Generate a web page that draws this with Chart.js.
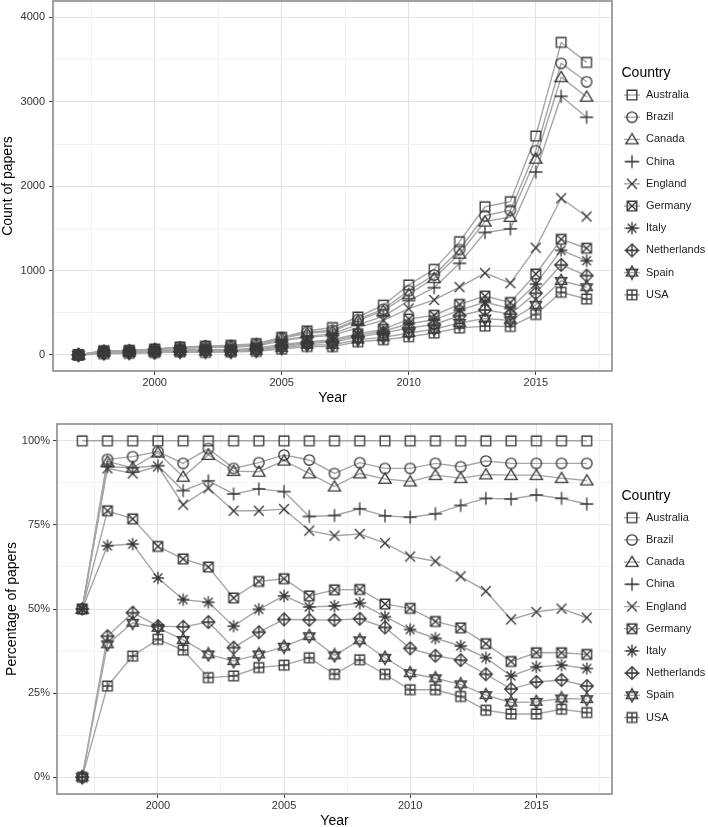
<!DOCTYPE html>
<html>
<head>
<meta charset="utf-8">
<script src="https://cdn.jsdelivr.net/npm/chart.js@4.4.1/dist/chart.umd.min.js"></script>
<style>
  html, body { margin: 0; padding: 0; background: #fff; overflow: hidden; }
  #countChart { position: absolute; left: 0; top: 0; }
  #pctChart { position: absolute; left: 0; top: 410px; }
</style>
</head>
<body>
<canvas id="countChart" width="708" height="407" style="width:708px;height:407px"></canvas>
<canvas id="pctChart" width="708" height="420" style="width:708px;height:420px"></canvas>
<script>
const years = [1997, 1998, 1999, 2000, 2001, 2002, 2003, 2004, 2005, 2006, 2007,
  2008, 2009, 2010, 2011, 2012, 2013, 2014, 2015, 2016, 2017];

const countries = ['Australia', 'Brazil', 'Canada', 'China', 'England',
  'Germany', 'Italy', 'Netherlands', 'Spain', 'USA'];

// ggplot shapes 0,1,2,3,4,7,8,9,11,12
const shapes = ['square', 'circle', 'triangle', 'plus', 'cross',
  'squareCross', 'asterisk', 'diamondPlus', 'star', 'squarePlus'];

// top panel: count of papers
const australiaCount = [2, 50, 55, 70, 95, 105, 115, 135, 210, 285, 325, 450, 590, 830, 1015, 1343, 1757, 1817, 2595, 3705, 3468];
const brazilCount = [1, 47, 52, 68, 89, 103, 106, 126, 201, 269, 293, 421, 542, 762, 948, 1250, 1650, 1715, 2421, 3457, 3238];
const canadaCount = [1, 47, 51, 68, 85, 101, 105, 123, 198, 257, 281, 406, 523, 720, 910, 1200, 1580, 1635, 2325, 3292, 3060];
const chinaCount = [1, 46, 51, 65, 81, 93, 97, 116, 178, 221, 253, 359, 458, 645, 798, 1086, 1452, 1495, 2168, 3066, 2817];
const englandCount = [1, 46, 50, 65, 77, 90, 91, 107, 167, 209, 233, 325, 411, 550, 652, 805, 970, 851, 1270, 1857, 1641];
const germanyCount = [1, 40, 42, 48, 62, 66, 61, 79, 124, 153, 181, 251, 304, 425, 471, 600, 698, 622, 960, 1371, 1265];
const italyCount = [1, 34, 38, 41, 50, 55, 52, 67, 113, 144, 165, 232, 281, 370, 417, 528, 628, 550, 840, 1240, 1117];
const netherlandsCount = [0, 21, 27, 31, 42, 48, 44, 58, 98, 134, 152, 212, 262, 320, 361, 465, 535, 484, 732, 1068, 940];
const spainCount = [0, 20, 25, 31, 39, 38, 40, 49, 81, 119, 118, 182, 209, 260, 305, 380, 432, 410, 595, 878, 803];
const usaCount = [0, 14, 20, 29, 36, 31, 35, 44, 70, 101, 99, 157, 181, 216, 260, 320, 342, 338, 480, 743, 663];

// bottom panel: percentage of papers
const australiaPct = [100, 100, 100, 100, 100, 100, 100, 100, 100, 100, 100, 100, 100, 100, 100, 100, 100, 100, 100, 100, 100];
const brazilPct = [50, 94.5, 95.3, 96.8, 93.3, 97.7, 91.8, 93.5, 95.8, 94.3, 90.3, 93.5, 91.8, 91.8, 93.3, 92.3, 94.0, 93.3, 93.3, 93.3, 93.3];
const canadaPct = [50, 93.8, 92.0, 96.5, 89.3, 95.8, 91.0, 90.8, 94.1, 90.3, 86.4, 90.3, 88.7, 87.9, 89.8, 88.9, 90.0, 89.8, 89.8, 88.9, 88.2];
const chinaPct = [50, 92.3, 92.0, 92.6, 85.2, 88.1, 84.2, 85.7, 84.9, 77.5, 77.8, 79.8, 77.7, 77.3, 78.3, 80.8, 82.9, 82.7, 83.9, 82.9, 81.2];
const englandPct = [50, 91.8, 90.3, 92.4, 81.0, 85.9, 79.2, 79.2, 79.7, 73.3, 71.8, 72.3, 69.6, 65.6, 64.2, 59.7, 55.3, 46.9, 49.1, 50.1, 47.4];
const germanyPct = [50, 79.2, 76.8, 68.6, 64.9, 62.5, 53.3, 58.2, 59.0, 53.9, 55.7, 55.8, 51.5, 50.2, 46.3, 44.4, 39.7, 34.4, 37.0, 37.0, 36.5];
const italyPct = [50, 68.8, 69.3, 59.2, 52.8, 52.0, 44.9, 49.9, 53.9, 50.6, 50.9, 51.8, 47.7, 43.9, 41.3, 39.0, 35.5, 30.1, 32.8, 33.3, 32.3];
const netherlandsPct = [0, 41.9, 48.9, 44.9, 44.7, 46.1, 38.5, 43.1, 46.9, 46.8, 46.7, 47.1, 44.5, 38.3, 36.1, 34.8, 30.6, 26.2, 28.3, 28.9, 27.1];
const spainPct = [0, 39.5, 45.9, 44.4, 40.8, 36.5, 34.5, 36.5, 38.8, 41.9, 36.2, 40.7, 35.5, 30.9, 29.4, 27.6, 24.4, 22.2, 22.4, 23.4, 23.2];
const usaPct = [0, 27.1, 36.0, 41.0, 37.8, 29.6, 30.1, 32.6, 33.3, 35.5, 30.6, 34.9, 30.6, 26.0, 26.0, 24.0, 19.9, 18.8, 18.8, 20.2, 19.2];

// tick labels and grid positions
const yearTicks = [2000, 2005, 2010, 2015];
const yearGrid = [1997.5, 2000, 2002.5, 2005, 2007.5, 2010, 2012.5, 2015, 2017.5];
const countTicks = [0, 1000, 2000, 3000, 4000];
const countGrid = [0, 500, 1000, 1500, 2000, 2500, 3000, 3500, 4000];
const pctTicks = [0, 25, 50, 75, 100];
const pctGrid = [0, 12.5, 25, 37.5, 50, 62.5, 75, 87.5, 100];

const lineColor = '#a6a6a6';
const markerColor = '#3a3a3a';
const majorGrid = '#e3e3e3';
const minorGrid = '#f2f2f2';
const borderColor = '#8a8a8a';
const tickColor = '#333333';

Chart.defaults.font.family = '"Liberation Sans", Arial, sans-serif';

function makeMarker(shape) {
  const c = document.createElement('canvas');
  c.width = 16;
  c.height = 16;
  const g = c.getContext('2d');
  const m = 8;
  g.strokeStyle = markerColor;
  g.lineWidth = 1.35;
  g.beginPath();
  const rect = (h) => g.rect(m - h, m - h, 2 * h, 2 * h);
  const plus = (h) => { g.moveTo(m - h, m); g.lineTo(m + h, m); g.moveTo(m, m - h); g.lineTo(m, m + h); };
  const cross = (h) => { g.moveTo(m - h, m - h); g.lineTo(m + h, m + h); g.moveTo(m + h, m - h); g.lineTo(m - h, m + h); };
  switch (shape) {
    case 'square': rect(4.8); break;
    case 'circle': g.arc(m, m, 5.2, 0, Math.PI * 2); break;
    case 'triangle':
      g.moveTo(m, m - 5.8); g.lineTo(m + 6.1, m + 4.4); g.lineTo(m - 6.1, m + 4.4); g.closePath();
      break;
    case 'plus': plus(6.6); break;
    case 'cross': cross(4.9); break;
    case 'squareCross': rect(4.8); cross(4.8); break;
    case 'asterisk': plus(6.2); cross(4.4); break;
    case 'diamondPlus':
      g.moveTo(m, m - 6.4); g.lineTo(m + 6.4, m); g.lineTo(m, m + 6.4); g.lineTo(m - 6.4, m); g.closePath();
      plus(6.4);
      break;
    case 'star':
      g.moveTo(m, m - 6.6); g.lineTo(m + 5.7, m + 3.3); g.lineTo(m - 5.7, m + 3.3); g.closePath();
      g.moveTo(m, m + 6.6); g.lineTo(m + 5.7, m - 3.3); g.lineTo(m - 5.7, m - 3.3); g.closePath();
      break;
    case 'squarePlus': rect(4.8); plus(4.8); break;
  }
  g.stroke();
  return c;
}

const markers = shapes.map(makeMarker);

function buildDatasets(seriesList) {
  const lines = seriesList.map((values, i) => ({
    label: countries[i],
    data: years.map((yr, j) => ({ x: yr, y: values[j] })),
    borderColor: lineColor,
    borderWidth: 1.4,
    pointRadius: 0,
    fill: false,
    order: 100,
  }));
  const points = seriesList.map((values, i) => ({
    label: countries[i],
    data: years.map((yr, j) => ({ x: yr, y: values[j] })),
    showLine: false,
    pointStyle: markers[i],
    pointRadius: 6,
    order: 20 - i,
  }));
  return lines.concat(points);
}

const gridColor = (ctx, majors) => majors.includes(ctx.tick.value) ? majorGrid : minorGrid;

function xAxis(height) {
  return {
    type: 'linear',
    min: 1996,
    max: 2018,
    afterBuildTicks: (s) => { s.ticks = yearGrid.map((v) => ({ value: v })); },
    afterFit: (s) => { s.height = height; s.paddingLeft = 0; s.paddingRight = 0; },
    ticks: {
      autoSkip: false,
      maxRotation: 0,
      padding: 1,
      color: tickColor,
      font: { size: 11 },
      callback: (v) => yearTicks.includes(v) ? String(v) : '',
    },
    grid: {
      color: (ctx) => gridColor(ctx, yearTicks),
      tickColor: (ctx) => yearTicks.includes(ctx.tick.value) ? '#444' : 'rgba(0,0,0,0)',
      tickLength: 4,
      lineWidth: 1,
    },
    border: { display: false },
    title: { display: true, text: 'Year', color: '#000', font: { size: 14 }, padding: 0 },
  };
}

function yAxis(opts) {
  return {
    type: 'linear',
    min: opts.min,
    max: opts.max,
    afterBuildTicks: (s) => { s.ticks = opts.grid.map((v) => ({ value: v })); },
    afterFit: (s) => { s.width = opts.width; s.paddingTop = 0; s.paddingBottom = 0; },
    ticks: {
      padding: opts.tickPad,
      color: tickColor,
      font: { size: 11 },
      callback: (v) => opts.ticks.includes(v) ? v + opts.suffix : '',
    },
    grid: {
      color: (ctx) => gridColor(ctx, opts.ticks),
      tickColor: (ctx) => opts.ticks.includes(ctx.tick.value) ? '#444' : 'rgba(0,0,0,0)',
      tickLength: 4,
      lineWidth: 1,
    },
    border: { display: false },
    title: {
      display: true, text: opts.title, color: '#000',
      font: { size: 14, lineHeight: 1.1 }, padding: { top: opts.titlePad, bottom: 0 },
    },
  };
}

const panelBorder = {
  id: 'panelBorder',
  afterDraw(chart) {
    const { ctx, chartArea: a } = chart;
    ctx.save();
    ctx.strokeStyle = borderColor;
    ctx.lineWidth = 1.6;
    ctx.strokeRect(a.left, a.top, a.right - a.left, a.bottom - a.top);
    ctx.restore();
  },
};

const countryLegend = {
  id: 'countryLegend',
  afterDraw(chart, args, opts) {
    const ctx = chart.ctx;
    ctx.save();
    ctx.textBaseline = 'middle';
    ctx.textAlign = 'left';
    ctx.fillStyle = '#000';
    ctx.font = '14px "Liberation Sans", Arial, sans-serif';
    ctx.fillText('Country', opts.x, opts.titleY);
    ctx.font = '11px "Liberation Sans", Arial, sans-serif';
    countries.forEach((name, i) => {
      const y = opts.firstY + i * opts.step;
      const cx = opts.x + 10.5;
      ctx.strokeStyle = lineColor;
      ctx.lineWidth = 1.4;
      ctx.beginPath();
      ctx.moveTo(cx - 8, y);
      ctx.lineTo(cx + 8, y);
      ctx.stroke();
      ctx.drawImage(markers[i], cx - 8, y - 8);
      ctx.fillStyle = '#222';
      ctx.fillText(name, opts.x + 24.5, y);
    });
    ctx.restore();
  },
};

new Chart(document.getElementById('countChart'), {
  type: 'line',
  data: {
    datasets: buildDatasets([australiaCount, brazilCount, canadaCount, chinaCount, englandCount,
      germanyCount, italyCount, netherlandsCount, spainCount, usaCount]),
  },
  options: {
    responsive: false,
    animation: false,
    layout: { autoPadding: false, padding: { top: 1, right: 96, bottom: 0, left: 0 } },
    plugins: {
      legend: { display: false },
      tooltip: { enabled: false },
      countryLegend: { x: 621.5, titleY: 73, firstY: 95, step: 22.2 },
    },
    scales: {
      x: xAxis(36),
      y: yAxis({ min: -190, max: 4195, grid: countGrid, ticks: countTicks, suffix: '', width: 53,
        tickPad: 4, title: 'Count of papers', titlePad: 0 }),
    },
  },
  plugins: [panelBorder, countryLegend],
});

new Chart(document.getElementById('pctChart'), {
  type: 'line',
  data: {
    datasets: buildDatasets([australiaPct, brazilPct, canadaPct, chinaPct, englandPct,
      germanyPct, italyPct, netherlandsPct, spainPct, usaPct]),
  },
  options: {
    responsive: false,
    animation: false,
    layout: { autoPadding: false, padding: { top: 14, right: 96, bottom: 0, left: 0 } },
    plugins: {
      legend: { display: false },
      tooltip: { enabled: false },
      countryLegend: { x: 621.5, titleY: 86.3, firstY: 107.7, step: 22.2 },
    },
    scales: {
      x: xAxis(36),
      y: yAxis({ min: -5, max: 105, grid: pctGrid, ticks: pctTicks, suffix: '%', width: 57,
        tickPad: 3, title: 'Percentage of papers', titlePad: 4 }),
    },
  },
  plugins: [panelBorder, countryLegend],
});
</script>
</body>
</html>
